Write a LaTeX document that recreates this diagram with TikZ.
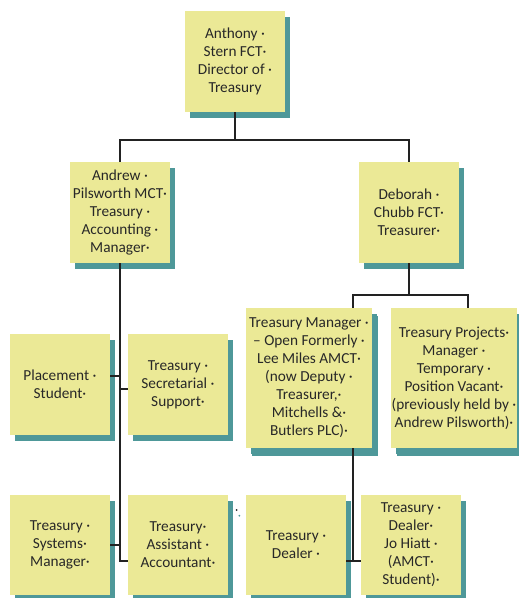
\documentclass[tikz,border=0pt]{standalone}
\usepackage{fontspec}
\setmainfont{Carlito}
\usepackage{xcolor}
\usepackage{tikz}
\usetikzlibrary{positioning, shadows}

\definecolor{postyellow}{RGB}{235,233,150}
\definecolor{postshadow}{RGB}{78,152,153}
\definecolor{posttext}{RGB}{40,40,40}
\definecolor{linkgray}{RGB}{34,34,34}

\begin{document}
\begin{tikzpicture}[x=1pt, y=-1pt,
    post/.style={fill=postyellow, text=posttext, align=center,
        minimum width=100pt, minimum height=101pt, inner sep=0pt,
        font=\fontsize{15.3}{18}\selectfont,
        drop shadow={shadow xshift=5pt, shadow yshift=-6pt, fill=postshadow, opacity=1}},
    tallpost/.style={post, minimum width=126pt, minimum height=140pt,
        drop shadow={shadow xshift=6pt, shadow yshift=-8pt, fill=postshadow, opacity=1}},
    link/.style={draw=linkgray, line width=2pt}]

\useasboundingbox (0,0) rectangle (519,598);

%---------------- Boxes ----------------%
\node[post] (anthony) at (235,61.5) {Anthony ·\\Stern FCT·\\Director of ·\\Treasury};

\node[post] (andrew)  at (120,212.5) {Andrew ·\\Pilsworth MCT·\\Treasury ·\\Accounting ·\\Manager·};
\node[post] (deborah) at (409,212.5) {Deborah ·\\Chubb FCT·\\Treasurer·};

\node[post] (placement)   at (60,384.5)  {Placement ·\\Student·};
\node[post] (secretarial) at (178,384.5) {Treasury ·\\Secretarial ·\\Support·};

\node[tallpost] (tmanager) at (309,378) {Treasury Manager ·\\– Open Formerly ·\\Lee Miles AMCT·\\(now Deputy ·\\Treasurer,·\\Mitchells \&·\\Butlers PLC)·};
\node[tallpost] (projects) at (454,378) {Treasury Projects·\\Manager ·\\Temporary ·\\Position Vacant·\\(previously held by ·\\Andrew Pilsworth)·};

\node[post, minimum height=100pt] (systems)   at (60,545)  {Treasury ·\\Systems·\\Manager·};
\node[post, minimum height=100pt] (assistant) at (178,545) {Treasury·\\Assistant ·\\Accountant·};
\node[post, minimum height=100pt] (dealer)    at (296,545) {Treasury ·\\Dealer ·};
\node[post, minimum height=100pt] (hiatt)     at (411,545) {Treasury ·\\Dealer·\\Jo Hiatt ·\\(AMCT·\\Student)·};

%---------------- Connectors ----------------%
\coordinate (barT) at (235,140);
\coordinate (barL) at (353,295);
\coordinate (barR) at (468,295);

\draw[link] (anthony.south) -- (barT);
\draw[link] (andrew.north) |- (barT) -| (deborah.north);

\draw[link] ([yshift=8.5pt]placement.east) -| (andrew.south);
\draw[link] ([yshift=-4.5pt]secretarial.west) -| (andrew.south);
\draw[link] (systems.east) -| (andrew.south);
\draw[link] ([yshift=-16pt]assistant.west) -| (andrew.south);

\draw[link] (deborah.south) -- (deborah.south |- barL);
\draw[link] (tmanager.north -| barL) -- (barL) -- (barR) -- (projects.north -| barR);

\draw[link] (tmanager.south -| barL) |- ([yshift=-16pt]hiatt.west);
\draw[link] ([yshift=-16pt]dealer.east) -- ([yshift=-16pt]hiatt.west);

%---------------- Stray marks ----------------%
\fill[linkgray] (236.7,510) circle (1);
\fill[postshadow] (239.3,515.7) circle (1);

\end{tikzpicture}
\end{document}
